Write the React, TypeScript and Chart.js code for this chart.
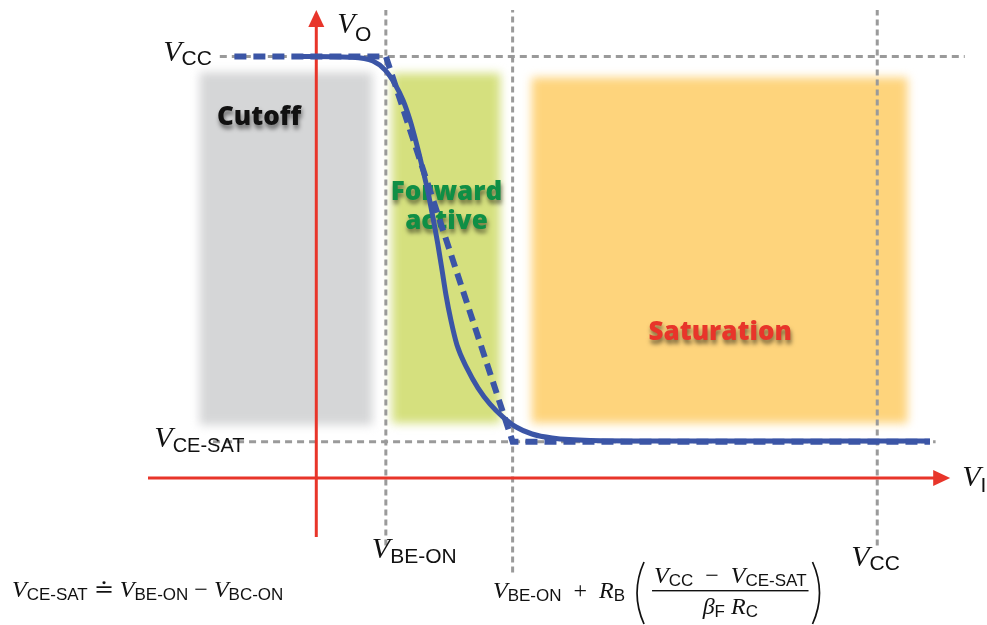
import React, { useEffect, useRef } from "react";
import { Chart, registerables } from "chart.js";
Chart.register(...registerables);

// ---- key levels ----
const VCC = 5;
const VBE_ON = 0.62;
const VI_SAT = 1.75;
const VCE_SAT = 0.43;

// ---- smooth transfer characteristic (V_I, V_O) ----
const solidVI = [-0.16, 0.3, 0.505, 0.612, 0.702, 0.773, 0.835, 0.889, 0.942, 0.996, 1.041, 1.085, 1.121, 1.156, 1.2, 1.254, 1.344, 1.442, 1.549, 1.665, 1.781, 1.923, 2.102, 2.441, 2.975, 5.47];
const solidVO = [5.0, 4.99, 4.945, 4.84, 4.67, 4.48, 4.245, 3.985, 3.7, 3.39, 3.08, 2.76, 2.465, 2.17, 1.87, 1.577, 1.3, 1.067, 0.877, 0.723, 0.605, 0.522, 0.474, 0.445, 0.44, 0.44];

// ---- piecewise-linear approximation ----
const pieceVI = [-0.73, VBE_ON, VI_SAT, 5.47];
const pieceVO = [VCC, VCC, VCE_SAT, VCE_SAT];

// ---- guide lines ----
const guideVX = [VBE_ON, VI_SAT, VCC];
const guideVBottom = [-0.8, -1.12, -0.8];
const guideTop = 5.55;
const guideHY = [VCC, VCE_SAT];
const guideHStart = [-0.86, -0.92];
const guideHEnd = [5.78, 5.52];

// ---- axes ----
const axisXRange = [-1.5, 5.55];
const axisXTip = 5.65;
const axisYRange = [-0.7, 5.4];
const axisYTip = 5.55;

// ---- operating regions ----
const regionNames = ["Cutoff", "Forward\nactive", "Saturation"];
const regionX0 = [-1.04, 0.675, 1.92];
const regionX1 = [0.5, 1.64, 5.27];
const regionY0 = [0.63, 0.65, 0.65];
const regionY1 = [4.81, 4.8, 4.75];
const regionLabelX = [-0.51, 1.16, 3.6];
const regionLabelY = [4.28, 3.21, 1.72];
const regionFill = ["#d5d6d7", "#d5e07e", "#fed47c"];
const regionText = ["#111111", "#0f8f45", "#e8352a"];

const BLUE = "#3b55a6";
const RED = "#e8352a";
const GRAY = "#9a9a9a";
const SERIF = '"Liberation Serif", "DejaVu Serif", serif';
const SANS = '"Liberation Sans", "DejaVu Sans", sans-serif';

type Seg = [string, "i" | "r" | "s"];

function segFont(k: string, size: number, sub: number) {
  if (k === "i") return `italic ${size}px ${SERIF}`;
  if (k === "r") return `${size}px ${SERIF}`;
  return `${sub}px ${SANS}`;
}
function measure(ctx: CanvasRenderingContext2D, segs: Seg[], size: number, sub: number) {
  let w = 0;
  for (const [t, k] of segs) {
    ctx.font = segFont(k, size, sub);
    w += ctx.measureText(t).width;
  }
  return w;
}
function drawMath(
  ctx: CanvasRenderingContext2D,
  x: number,
  y: number,
  segs: Seg[],
  size: number,
  sub: number,
  drop: number,
  align: "left" | "right" | "center" = "left"
) {
  const w = measure(ctx, segs, size, sub);
  let cx = align === "right" ? x - w : align === "center" ? x - w / 2 : x;
  ctx.textAlign = "left";
  ctx.textBaseline = "alphabetic";
  for (const [t, k] of segs) {
    ctx.font = segFont(k, size, sub);
    ctx.fillText(t, cx, k === "s" ? y + drop : y);
    cx += ctx.measureText(t).width;
  }
  return cx;
}
function drawParen(ctx: CanvasRenderingContext2D, x: number, top: number, bottom: number, left: boolean) {
  const mid = (top + bottom) / 2;
  ctx.beginPath();
  if (left) {
    ctx.moveTo(x + 10, top);
    ctx.quadraticCurveTo(x - 4, mid, x + 10, bottom);
  } else {
    ctx.moveTo(x, top);
    ctx.quadraticCurveTo(x + 14, mid, x, bottom);
  }
  ctx.lineWidth = 1.7;
  ctx.strokeStyle = "#111";
  ctx.stroke();
}

const pts = (xs: number[], ys: number[]) => xs.map((x, i) => ({ x, y: ys[i] }));

const decorPlugin = {
  id: "decor",
  beforeDatasetsDraw(chart: any) {
    const { ctx, scales } = chart;
    const xs = scales.x, ys = scales.y;
    ctx.save();
    ctx.filter = "blur(5px)";
    for (let i = 0; i < regionNames.length; i++) {
      const l = xs.getPixelForValue(regionX0[i]);
      const r = xs.getPixelForValue(regionX1[i]);
      const t = ys.getPixelForValue(regionY1[i]);
      const b = ys.getPixelForValue(regionY0[i]);
      ctx.fillStyle = regionFill[i];
      ctx.fillRect(l, t, r - l, b - t);
    }
    ctx.restore();
    ctx.save();
    ctx.font = `800 26px "Open Sans", "DejaVu Sans", sans-serif`;
    ctx.textAlign = "center";
    ctx.textBaseline = "middle";
    ctx.shadowColor = "rgba(0,0,0,0.5)";
    ctx.shadowOffsetX = 1;
    ctx.shadowOffsetY = 4;
    ctx.shadowBlur = 4;
    for (let i = 0; i < regionNames.length; i++) {
      const lines = regionNames[i].split("\n");
      const cx = xs.getPixelForValue(regionLabelX[i]);
      const cy = ys.getPixelForValue(regionLabelY[i]);
      const lh = 29;
      ctx.fillStyle = regionText[i];
      lines.forEach((ln, j) => {
        ctx.fillText(ln, cx, cy + (j - (lines.length - 1) / 2) * lh);
      });
    }
    ctx.restore();
  },
  afterDatasetsDraw(chart: any) {
    const { ctx, scales } = chart;
    const xs = scales.x, ys = scales.y;
    ctx.save();
    // arrowheads
    ctx.fillStyle = RED;
    const ax = xs.getPixelForValue(0), ay = ys.getPixelForValue(axisYTip);
    ctx.beginPath();
    ctx.moveTo(ax, ay);
    ctx.lineTo(ax - 8, ay + 17);
    ctx.lineTo(ax + 8, ay + 17);
    ctx.closePath();
    ctx.fill();
    const bx = xs.getPixelForValue(axisXTip), by = ys.getPixelForValue(0);
    ctx.beginPath();
    ctx.moveTo(bx, by);
    ctx.lineTo(bx - 17, by - 8);
    ctx.lineTo(bx - 17, by + 8);
    ctx.closePath();
    ctx.fill();

    // math labels
    ctx.fillStyle = "#111";
    const X = (v: number) => xs.getPixelForValue(v);
    const Y = (v: number) => ys.getPixelForValue(v);
    drawMath(ctx, X(-0.93), Y(VCC) + 5, [["V", "i"], ["CC", "s"]], 30, 21, 4, "right");
    drawMath(ctx, X(0) + 21, Y(axisYTip) + 23, [["V", "i"], ["O", "s"]], 29, 21, 8);
    drawMath(ctx, X(-0.64), Y(VCE_SAT) + 5, [["V", "i"], ["CE-SAT", "s"]], 30, 20, 5, "right");
    drawMath(ctx, X(axisXTip) + 12, Y(0) + 8, [["V", "i"], ["I", "s"]], 30, 21, 6);
    drawMath(ctx, X(VBE_ON) - 14, 558, [["V", "i"], ["BE-ON", "s"]], 30, 21, 5);
    drawMath(ctx, X(VCC) - 26, 566, [["V", "i"], ["CC", "s"]], 30, 21, 4);

    // bottom-left relation
    drawMath(
      ctx, 12, 597,
      [["V", "i"], ["CE-SAT", "s"], [" \u2250 ", "r"], ["V", "i"], ["BE-ON", "s"], [" \u2212 ", "r"], ["V", "i"], ["BC-ON", "s"]],
      24, 17, 3
    );

    // right formula
    let cx = drawMath(ctx, 493, 598, [["V", "i"], ["BE-ON", "s"], ["  +  ", "r"], ["R", "i"], ["B", "s"]], 24, 17, 3);
    cx += 9;
    drawParen(ctx, cx, 562, 624, true);
    cx += 18;
    const num: Seg[] = [["V", "i"], ["CC", "s"], ["  \u2212  ", "r"], ["V", "i"], ["CE-SAT", "s"]];
    const den: Seg[] = [["\u03b2", "i"], ["F", "s"], [" ", "r"], ["R", "i"], ["C", "s"]];
    const wn = measure(ctx, num, 24, 17);
    const wd = measure(ctx, den, 24, 17);
    const fw = Math.max(wn, wd) + 4;
    const mid = cx + fw / 2;
    ctx.fillStyle = "#111";
    drawMath(ctx, mid, 583, num, 24, 17, 3, "center");
    drawMath(ctx, mid, 614, den, 24, 17, 3, "center");
    ctx.fillRect(cx, 590, fw, 1.4);
    cx += fw + 4;
    drawParen(ctx, cx, 562, 624, false);
    ctx.restore();
  },
};

export default function App() {
  const ref = useRef<HTMLCanvasElement | null>(null);
  useEffect(() => {
    if (!ref.current) return;
    const guideSets: any[] = [];
    guideVX.forEach((gx, i) => {
      guideSets.push({
        data: pts([gx, gx], [guideVBottom[i], guideTop]),
        borderColor: GRAY, borderWidth: 3, borderDash: [6, 4], pointRadius: 0, tension: 0,
      });
    });
    guideHY.forEach((gy, i) => {
      guideSets.push({
        data: pts([guideHStart[i], guideHEnd[i]], [gy, gy]),
        borderColor: GRAY, borderWidth: 3, borderDash: [7, 5], pointRadius: 0, tension: 0,
      });
    });
    const chart = new Chart(ref.current, {
      type: "line",
      data: {
        datasets: [
          {
            label: "Piecewise-linear",
            data: pts(pieceVI, pieceVO),
            borderColor: BLUE, borderWidth: 6, borderDash: [12, 7], pointRadius: 0, tension: 0,
          },
          {
            label: "V_O",
            data: pts(solidVI, solidVO),
            borderColor: BLUE, borderWidth: 5, pointRadius: 0, cubicInterpolationMode: "monotone",
          },
          {
            label: "x-axis",
            data: pts(axisXRange, [0, 0]),
            borderColor: RED, borderWidth: 3, pointRadius: 0,
          },
          {
            label: "y-axis",
            data: pts([0, 0], axisYRange),
            borderColor: RED, borderWidth: 3, pointRadius: 0,
          },
          ...guideSets,
        ] as any,
      },
      options: {
        responsive: false,
        animation: false,
        layout: { padding: { left: 148, right: 20, top: 10, bottom: 50 } },
        scales: {
          x: { type: "linear", min: -1.5, max: 5.8, display: false },
          y: { type: "linear", min: -1.15, max: 5.55, display: false },
        },
        plugins: { legend: { display: false }, tooltip: { enabled: false } },
        events: [],
      },
      plugins: [decorPlugin],
    });
    return () => chart.destroy();
  }, []);
  return (
    <canvas
      ref={ref}
      width={987}
      height={625}
      style={{ position: "fixed", left: 0, top: 0, background: "#fff" }}
    />
  );
}
